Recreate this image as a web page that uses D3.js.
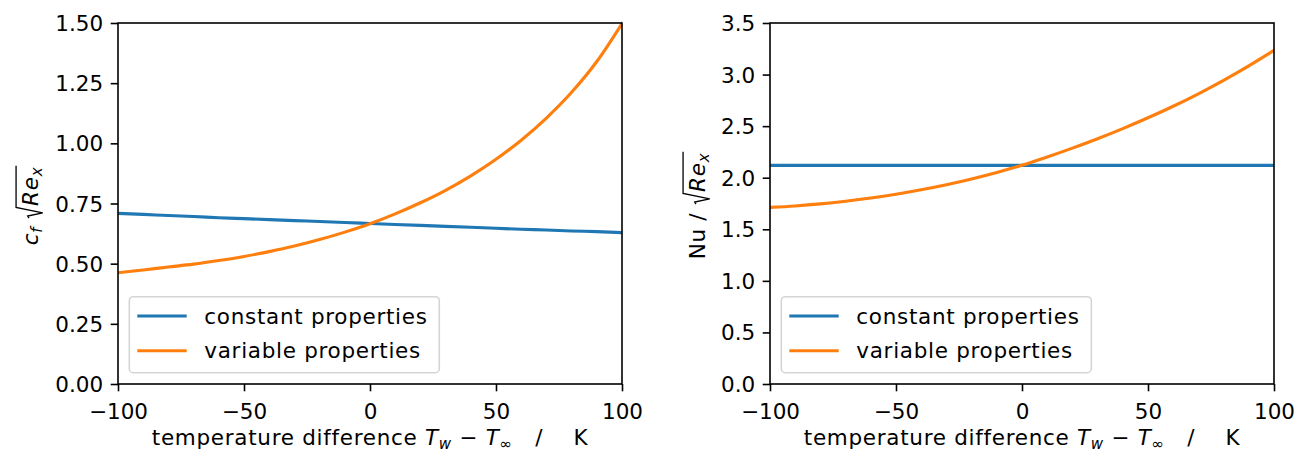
<!DOCTYPE html>
<html>
<head>
<meta charset="utf-8">
<script src="https://cdn.jsdelivr.net/npm/d3@7"></script>
<style>
  html, body { margin: 0; padding: 0; background: #fff; }
  svg text { font-family: "DejaVu Sans", sans-serif; white-space: pre; }
</style>
</head>
<body>
<svg id="chart" width="1307" height="453"></svg>
<script>
// ---------------- data ----------------
const tempDiff = [-100,-90,-80,-70,-60,-50,-40,-30,-20,-10,0,10,20,30,40,50,60,70,80,90,100];
const cfConstant = [0.709,0.705,0.700,0.696,0.691,0.687,0.683,0.679,0.675,0.671,0.667,0.663,0.659,0.655,0.651,0.647,0.643,0.640,0.636,0.633,0.629];
const cfVariable = [0.462,0.474,0.486,0.498,0.513,0.530,0.550,0.573,0.600,0.631,0.666,0.707,0.753,0.805,0.865,0.934,1.013,1.105,1.212,1.340,1.498];
const nuConstant = [2.12,2.12,2.12,2.12,2.12,2.12,2.12,2.12,2.12,2.12,2.12,2.12,2.12,2.12,2.12,2.12,2.12,2.12,2.12,2.12,2.12];
const nuVariable = [1.712,1.726,1.746,1.772,1.803,1.840,1.883,1.932,1.988,2.051,2.121,2.201,2.287,2.378,2.476,2.581,2.693,2.814,2.944,3.084,3.234];
const xTicks = [-100,-50,0,50,100];
const cfTicks = [0,0.25,0.5,0.75,1.0,1.25,1.5];
const nuTicks = [0,0.5,1.0,1.5,2.0,2.5,3.0,3.5];
const seriesNames = ["constant properties","variable properties"];
const colors = ["#1f77b4","#ff7f0e"];

// ---------------- layout ----------------
const FS = 21.5;
const LS = 0.7;
const svg = d3.select("#chart");
const plotTop = 23, plotBottom = 384;

function mathLabel(g, pieces, fs) {
  let x = 0;
  let sqrtX = null;
  const subFs = fs * 0.7;
  pieces.forEach(p => {
    if (p.sqrtStart) {
      sqrtX = x;
      x += fs * 0.62;
    }
    if (p.t) {
      const t = g.append("text")
        .attr("x", x)
        .attr("y", p.sub ? fs * 0.2 : 0)
        .attr("font-size", p.sub ? subFs : fs)
        .attr("font-style", p.it ? "italic" : "normal")
        .attr("letter-spacing", LS)
        .attr("fill", "#000")
        .text(p.t);
      x += t.node().getComputedTextLength();
    }
    if (p.sqrtEnd && sqrtX !== null) {
      const y0 = -fs * 1.02;
      g.append("path")
        .attr("d", `M${sqrtX + fs*0.05},${-fs*0.42} L${sqrtX + fs*0.15},${-fs*0.48} L${sqrtX + fs*0.3},${fs*0.22} L${sqrtX + fs*0.55},${y0} L${x + fs*0.05},${y0}`)
        .attr("fill", "none").attr("stroke", "#000").attr("stroke-width", 1.3);
      x += fs * 0.05;
    }
  });
  return x;
}

function panel(cfg) {
  const x = d3.scaleLinear().domain([-100,100]).range([cfg.x0, cfg.x1]);
  const y = d3.scaleLinear().domain(cfg.yDomain).range([plotBottom, plotTop]);
  const g = svg.append("g");

  const clipId = "clip" + cfg.id;
  svg.append("clipPath").attr("id", clipId).append("rect")
    .attr("x", cfg.x0).attr("y", plotTop - 2).attr("width", cfg.x1 - cfg.x0).attr("height", plotBottom - plotTop + 4);

  const line = d3.line().x((d,i) => x(tempDiff[i])).y(d => y(d)).curve(d3.curveMonotoneX);
  cfg.series.forEach((s, k) => {
    g.append("path").datum(s).attr("d", line)
      .attr("fill", "none").attr("stroke", colors[k]).attr("stroke-width", 3.1)
      .attr("stroke-linecap", "square")
      .attr("clip-path", `url(#${clipId})`);
  });

  const xAxis = d3.axisBottom(x).tickValues(xTicks).tickSize(7.3).tickPadding(7)
    .tickFormat(d => d < 0 ? "\u2212" + Math.abs(d) : String(d));
  const xa = g.append("g").attr("transform", `translate(0,${plotBottom})`).call(xAxis);
  const yAxis = d3.axisLeft(y).tickValues(cfg.yTicks).tickSize(7.3).tickPadding(7.5)
    .tickFormat(d3.format(cfg.fmt));
  const ya = g.append("g").attr("transform", `translate(${cfg.x0},0)`).call(yAxis);
  [xa, ya].forEach(a => {
    a.select(".domain").remove();
    a.selectAll(".tick line").attr("stroke", "#000").attr("stroke-width", 1.6);
    a.selectAll(".tick text").attr("font-size", FS).attr("fill", "#000")
      .attr("font-family", "DejaVu Sans");
  });
  xa.selectAll(".tick text").attr("dy", null).attr("y", 35);
  ya.selectAll(".tick text").attr("dy", "0.35em");

  g.append("rect").attr("x", cfg.x0).attr("y", plotTop)
    .attr("width", cfg.x1 - cfg.x0).attr("height", plotBottom - plotTop)
    .attr("fill", "none").attr("stroke", "#000").attr("stroke-width", 1.6);

  const xl = g.append("g");
  const w = mathLabel(xl, [
    {t: "temperature difference "},
    {t: "T", it: true}, {t: "w", it: true, sub: true},
    {t: " \u2212 "},
    {t: "T", it: true}, {t: "\u221E", sub: true},
    {t: "   /    K"}
  ], FS);
  xl.attr("transform", `translate(${(cfg.x0 + cfg.x1)/2 - w/2},444.5)`);

  const yl = g.append("g");
  const wy = mathLabel(yl, cfg.yLabel, FS);
  yl.attr("transform", `translate(${cfg.yLabelX},${(plotTop+plotBottom)/2 + 2}) rotate(-90) translate(${-wy/2},0)`);

  const lx = cfg.x0 + 11.3, ly = 296.7, lw = 310, lh = 76;
  const lg = g.append("g");
  lg.append("rect").attr("x", lx).attr("y", ly).attr("width", lw).attr("height", lh)
    .attr("rx", 4).attr("fill", "#fff").attr("fill-opacity", 0.8)
    .attr("stroke", "#d5d5d5").attr("stroke-width", 1.6);
  seriesNames.forEach((n, k) => {
    const yy = 316 + k * 34.7;
    lg.append("line").attr("x1", lx + 8).attr("x2", lx + 57.4).attr("y1", yy).attr("y2", yy)
      .attr("stroke", colors[k]).attr("stroke-width", 3.1);
    lg.append("text").attr("x", lx + 75).attr("y", yy).attr("dy", "0.35em")
      .attr("font-size", FS).attr("letter-spacing", LS).attr("fill", "#000").text(n);
  });
}

panel({
  id: "L", x0: 118, x1: 622, yDomain: [0, 1.5], yTicks: cfTicks, fmt: ".2f",
  series: [cfConstant, cfVariable], yLabelX: 38,
  yLabel: [
    {t: "c", it: true}, {t: "f", it: true, sub: true}, {t: " "},
    {sqrtStart: true, t: "Re", it: true}, {t: "x", it: true, sub: true, sqrtEnd: true}
  ]
});
panel({
  id: "R", x0: 770, x1: 1274, yDomain: [0, 3.5], yTicks: nuTicks, fmt: ".1f",
  series: [nuConstant, nuVariable], yLabelX: 705,
  yLabel: [
    {t: "Nu / "},
    {sqrtStart: true, t: "Re", it: true}, {t: "x", it: true, sub: true, sqrtEnd: true}
  ]
});
</script>
</body>
</html>
